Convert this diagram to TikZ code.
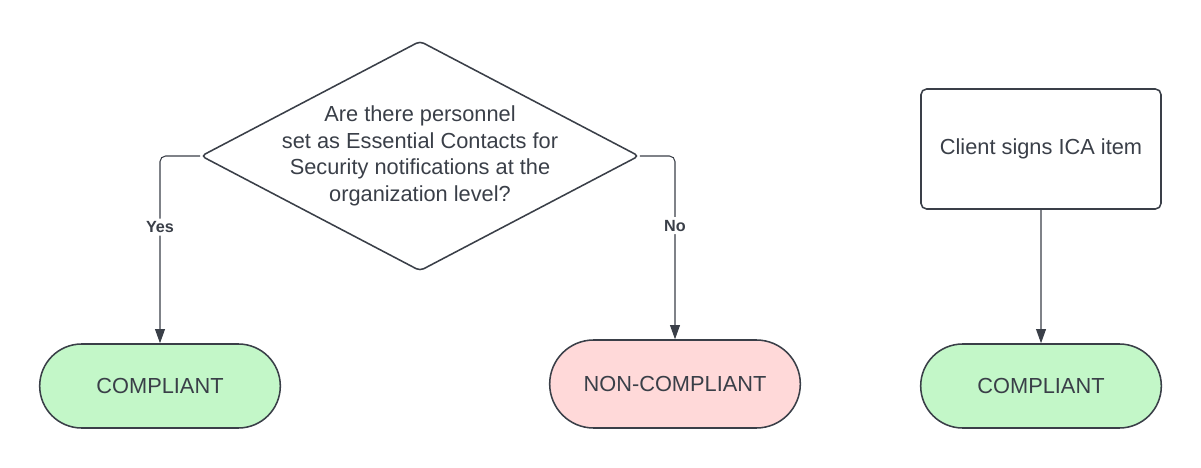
\documentclass[tikz,border=0pt]{standalone}
\usepackage{fontspec}
\setmainfont{Liberation Sans}
\usetikzlibrary{shapes.geometric,shapes.misc,arrows.meta}
\definecolor{ink}{HTML}{3A3F48}
\definecolor{okfill}{HTML}{C3F7C8}
\definecolor{badfill}{HTML}{FFD9D9}
\tikzset{
	box/.style={draw=ink, line width=1.1pt, text=ink, font=\fontsize{15.5}{18.9}\selectfont, align=center},
	pill/.style={box, rounded rectangle, minimum height=2.1cm, minimum width=6.25cm},
	conn/.style={draw=ink, line width=0.75pt, rounded corners=4pt, -{Triangle[width=7pt, length=10pt]}},
	answer/.style={fill=white, text=ink, inner sep=2pt, font=\fontsize{11.5}{13}\selectfont\bfseries}
}
\begin{document}
\begin{tikzpicture}
		\useasboundingbox (0, 0) rectangle (30.025, -11.7);
		\node[box, diamond, rounded corners=3pt, minimum width=10.95cm, minimum height=5.75cm, inner sep=0pt] (q) at (10.5, -3.9) {};
		\node[text=ink, font=\fontsize{15.5}{18.9}\selectfont, align=center] (qtext) at (q) {Are there personnel\\ set as Essential Contacts for\\ Security notifications at the\\ organization level?};
		\node[pill, fill=okfill] (yes) at (4.0, -9.65) {COMPLIANT};
		\node[pill, fill=badfill, minimum width=6.5cm, minimum height=2.2cm] (no) at (16.875, -9.6) {NON-COMPLIANT};
		\node[box, rectangle, rounded corners=4pt, minimum width=6cm, minimum height=3cm] (ica) at (26.025, -3.725) {Client signs ICA item};
		\node[pill, fill=okfill] (done) at (26.025, -9.65) {COMPLIANT};
		\draw[conn] (q.west) -| node[answer, pos=0.69] {Yes} (yes.north);
		\draw[conn] (q.east) -| node[answer, pos=0.69] {No} (no.north);
		\draw[conn] (ica) -- (done);
\end{tikzpicture}
\end{document}
